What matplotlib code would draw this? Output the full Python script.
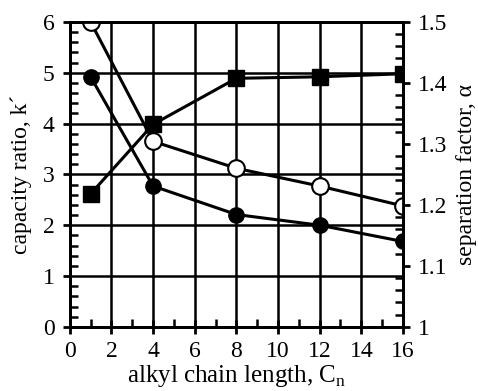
import numpy as np
import matplotlib.pyplot as plt
from matplotlib.ticker import MultipleLocator

plt.rcParams['font.family'] = ['Liberation Serif', 'DejaVu Serif']

# adatok
chain_length = [1, 4, 8, 12, 16]
k_open = [6.0, 3.65, 3.12, 2.77, 2.38]
k_filled = [4.92, 2.77, 2.21, 2.0, 1.68]
alpha_square = [1.218, 1.332, 1.4075, 1.41, 1.415]

x_ticks = [0, 2, 4, 6, 8, 10, 12, 14, 16]
k_ticks = [0, 1, 2, 3, 4, 5, 6]
alpha_ticks = [1, 1.1, 1.2, 1.3, 1.4, 1.5]
alpha_labels = ['1', '1.1', '1.2', '1.3', '1.4', '1.5']

fig = plt.figure(figsize=(4.78, 3.91), dpi=100)
ax = fig.add_axes([0.146, 0.164, 0.697, 0.78])
ax2 = ax.twinx()

ax.set_xlim(0, 16)
ax.set_ylim(0, 6)
ax2.set_ylim(1, 1.5)

ax.set_xticks(x_ticks)
ax.set_yticks(k_ticks)
ax.xaxis.set_minor_locator(MultipleLocator(1))
ax.yaxis.set_minor_locator(MultipleLocator(0.2))
ax2.set_yticks(alpha_ticks)
ax2.set_yticklabels(alpha_labels)
ax2.yaxis.set_minor_locator(MultipleLocator(0.02))

ax.grid(True, which='major', color='black', linewidth=1.8)
ax.set_axisbelow(True)

for a in (ax, ax2):
    for s in a.spines.values():
        s.set_linewidth(2)

ax.tick_params(axis='x', which='major', direction='inout', length=10, width=2, labelsize=17, pad=5)
ax.tick_params(axis='x', which='minor', direction='in', length=6, width=1.8)
ax.tick_params(axis='y', which='major', direction='out', length=5, width=2, labelsize=17, pad=6)
ax.tick_params(axis='y', which='minor', direction='in', length=6, width=1.8)
ax.tick_params(top=False, right=False)
ax2.tick_params(axis='y', which='major', direction='out', length=5, width=2, labelsize=17, pad=6)
ax2.tick_params(axis='y', which='minor', direction='in', length=6, width=1.8)

# adatsorok
ax.plot(chain_length, k_open, color='black', linewidth=2.2, marker='o', markersize=12,
        markerfacecolor='white', markeredgecolor='black', markeredgewidth=1.5, zorder=3)
ax.plot(chain_length, k_filled, color='black', linewidth=2.2, marker='o', markersize=11,
        markerfacecolor='black', zorder=3)
ax2.plot(chain_length, alpha_square, color='black', linewidth=2.2, marker='s', markersize=11,
         markerfacecolor='black', zorder=3)

ax.set_xlabel('alkyl chain length, C$_\\mathregular{n}$', fontsize=18, labelpad=1)
ax.set_ylabel('capacity ratio, k\u00b4', fontsize=17, labelpad=8)
ax2.set_ylabel('separation factor, \u03b1', fontsize=17, labelpad=6)

fig.savefig('out.png', dpi=100)
